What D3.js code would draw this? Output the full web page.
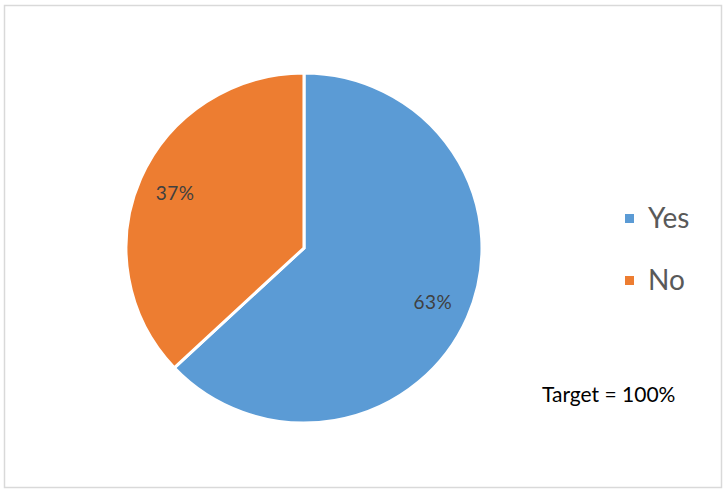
<!DOCTYPE html>
<html>
<head>
<meta charset="utf-8">
<script src="https://cdn.jsdelivr.net/npm/d3@7"></script>
<style>
  body { margin: 0; background: #fff; }
  text { font-family: Lato, "Open Sans", sans-serif; }
</style>
</head>
<body>
<svg width="725" height="491"></svg>
<script>
// data
const categories = ["Yes", "No"];
const values = [63, 37];
const colors = ["#5B9BD5", "#ED7D31"];
const note = "Target = 100%";

const svg = d3.select("svg");

// frame
svg.append("rect")
  .attr("x", 4.5).attr("y", 5.5)
  .attr("width", 717).attr("height", 482)
  .attr("fill", "#fff")
  .attr("stroke", "#d9d9d9")
  .attr("stroke-width", 1.5);

const cx = 304, cy = 248, r = 175, sx = 178 / 175;
const g = svg.append("g").attr("transform", `translate(${cx},${cy})`);

const pie = d3.pie().sort(null).value(d => d);
const arcs = pie(values);
const arc = d3.arc().innerRadius(0).outerRadius(r);
const labelArc = d3.arc().innerRadius(138).outerRadius(138);

g.append("g")
  .attr("transform", `scale(${sx},1)`)
  .selectAll("path")
  .data(arcs)
  .enter().append("path")
  .attr("d", arc)
  .attr("fill", (d, i) => colors[i])
  .attr("stroke", "#fff")
  .attr("stroke-width", 3);

g.selectAll("text.lbl")
  .data(arcs)
  .enter().append("text")
  .attr("class", "lbl")
  .attr("transform", d => {
    const c = labelArc.centroid(d);
    return `translate(${c[0] * sx},${c[1]})`;
  })
  .attr("text-anchor", "middle")
  .attr("dy", "0.35em")
  .attr("font-size", 19)
  .attr("letter-spacing", 0.5)
  .attr("fill", "#404040")
  .text(d => d.data + "%");

// legend
const legend = svg.selectAll("g.leg")
  .data(categories)
  .enter().append("g")
  .attr("class", "leg")
  .attr("transform", (d, i) => `translate(625,${218 + i * 62})`);

legend.append("rect")
  .attr("x", 0).attr("y", -4)
  .attr("width", 9).attr("height", 9)
  .attr("fill", (d, i) => colors[i]);

legend.append("text")
  .attr("x", 23).attr("y", 0)
  .attr("dy", "0.35em")
  .attr("font-size", 28)
  .attr("fill", "#595959")
  .text(d => d);

svg.append("text")
  .attr("x", 542).attr("y", 402)
  .attr("font-size", 21)
  .attr("fill", "#000")
  .text(note);
</script>
</body>
</html>
